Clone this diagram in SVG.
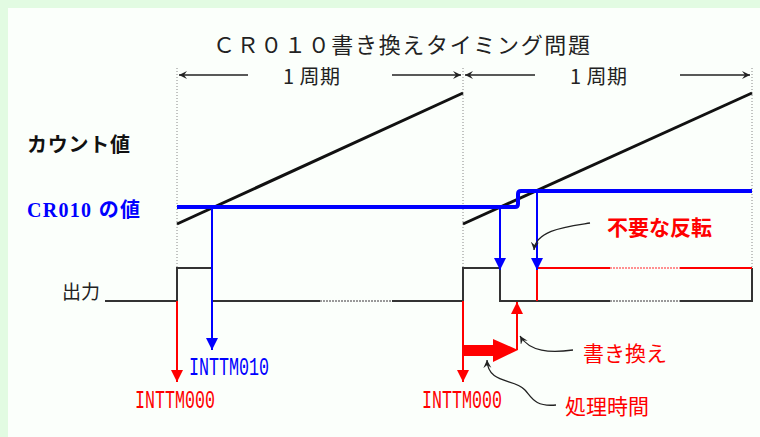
<svg xmlns="http://www.w3.org/2000/svg" width="760" height="437" viewBox="0 0 760 437">
<style>
.jp{font-family:"Noto Sans CJK JP","Noto Sans",sans-serif}
.mono{font-family:"Liberation Mono","DejaVu Sans Mono",monospace}
.dot{stroke:#888;stroke-width:1;stroke-dasharray:1,2;fill:none}
.sig{stroke:#333;stroke-width:2;fill:none}
.blue{stroke:#0000ff;stroke-width:2;fill:none}
.red{stroke:#ff0000;stroke-width:2;fill:none}
.thin{stroke:#222;stroke-width:1.3;fill:none}
</style>
<defs>
<marker id="ab" markerUnits="userSpaceOnUse" markerWidth="14" markerHeight="14" refX="12" refY="6" orient="auto"><path d="M0,0 L12,6 L0,12 Z" fill="#0000ff"/></marker>
<marker id="ar" markerUnits="userSpaceOnUse" markerWidth="14" markerHeight="14" refX="12" refY="6" orient="auto"><path d="M0,0 L12,6 L0,12 Z" fill="#ff0000"/></marker>
<marker id="ak" markerUnits="userSpaceOnUse" markerWidth="10" markerHeight="10" refX="8" refY="4" orient="auto"><path d="M0,0 L8,4 L0,8 L3,4 Z" fill="#222"/></marker>
</defs>
<rect x="0" y="0" width="760" height="437" fill="#e2fbe2"/>
<rect x="8" y="8" width="752" height="429" fill="#fbfffb"/>

<g id="title"><text class="jp" x="213" y="53" font-size="22" fill="#222" textLength="377" lengthAdjust="spacing">ＣＲ０１０書き換えタイミング問題</text></g>

<g id="period-guides">
<line class="dot" x1="177" y1="68" x2="177" y2="268"/>
<line class="dot" x1="463" y1="68" x2="463" y2="268"/>
<line class="dot" x1="752" y1="68" x2="752" y2="268"/>
</g>

<g id="period1">
<line class="thin" x1="248" y1="75" x2="179" y2="75" marker-end="url(#ak)"/>
<line class="thin" x1="392" y1="75" x2="461" y2="75" marker-end="url(#ak)"/>
<text class="jp" x="283" y="84" font-size="20" fill="#222" textLength="57" lengthAdjust="spacing">1 周期</text>
</g>
<g id="period2">
<line class="thin" x1="535" y1="75" x2="465" y2="75" marker-end="url(#ak)"/>
<line class="thin" x1="680" y1="75" x2="750" y2="75" marker-end="url(#ak)"/>
<text class="jp" x="570" y="84" font-size="20" fill="#222" textLength="57" lengthAdjust="spacing">1 周期</text>
</g>

<g id="labels">
<text class="jp" x="27" y="152" font-size="20" font-weight="bold" fill="#111" textLength="103" lengthAdjust="spacing">カウント値</text>
<text x="27" y="217" font-size="20" font-weight="bold" fill="#0000ff" font-family="Liberation Serif,serif" textLength="113" lengthAdjust="spacing">CR010 <tspan class="jp">の値</tspan></text>
<text class="jp" x="62" y="299" font-size="19" fill="#222">出力</text>
</g>

<g id="count">
<line x1="177" y1="224" x2="463" y2="93" stroke="#111" stroke-width="3"/>
<line x1="463" y1="224" x2="752" y2="93" stroke="#111" stroke-width="3"/>
</g>

<g id="cr010">
<path d="M177,207 H515 Q518,207 518,204 V194 Q518,191 521,191 H752" stroke="#0000ff" stroke-width="4" fill="none"/>
</g>

<g id="output">
<path class="sig" d="M105,301 H177 V268 H212 V301 H320"/>
<line x1="320" y1="301" x2="392" y2="301" stroke="#999" stroke-width="2" stroke-dasharray="2,1"/>
<path class="sig" d="M392,301 H463 V268 H500 V301 H610"/>
<line x1="610" y1="301" x2="680" y2="301" stroke="#999" stroke-width="2" stroke-dasharray="2,1"/>
<path class="sig" d="M680,301 H752 V268"/>
<path class="red" d="M537,301 V268 H610"/>
<line x1="610" y1="268" x2="680" y2="268" stroke="#ff9090" stroke-width="2" stroke-dasharray="2,1"/>
<path class="red" d="M680,268 H752"/>
</g>

<g id="connectors">
<line class="blue" x1="212" y1="207" x2="212" y2="350" marker-end="url(#ab)"/>
<line class="blue" x1="500" y1="207" x2="500" y2="270" marker-end="url(#ab)"/>
<line class="blue" x1="537" y1="191" x2="537" y2="270" marker-end="url(#ab)"/>
<line class="red" x1="177" y1="301" x2="177" y2="382" marker-end="url(#ar)"/>
<line class="red" x1="463" y1="301" x2="463" y2="382" marker-end="url(#ar)"/>
<line class="red" x1="517" y1="350" x2="517" y2="302" marker-end="url(#ar)"/>
<path d="M463,345 H493 V339 L518,350 L493,362 V356 H463 Z" fill="#ff0000"/>
<path class="thin" d="M590,223 C565,227 536,230 534,250" marker-end="url(#ak)"/>
<path class="thin" d="M573,350 C550,353 530,352 520,336" marker-end="url(#ak)"/>
<path class="thin" d="M556,405 C535,407 532,398 525,390 C515,378 488,385 487,360" marker-end="url(#ak)"/>
</g>

<g id="annotations">
<text class="mono" transform="translate(189,375) scale(1,1.2)" font-size="21" fill="#0000ff" textLength="80" lengthAdjust="spacingAndGlyphs">INTTM010</text>
<text class="mono" transform="translate(135,408) scale(1,1.2)" font-size="21" fill="#ff0000" textLength="80" lengthAdjust="spacingAndGlyphs">INTTM000</text>
<text class="mono" transform="translate(422,408) scale(1,1.2)" font-size="21" fill="#ff0000" textLength="80" lengthAdjust="spacingAndGlyphs">INTTM000</text>
<text class="jp" x="607" y="235" font-size="21" font-weight="bold" fill="#ff0000">不要な反転</text>
<text class="jp" x="583" y="361" font-size="21" fill="#ff0000">書き換え</text>
<text class="jp" x="565" y="414" font-size="21" fill="#ff0000">処理時間</text>
</g>
</svg>
